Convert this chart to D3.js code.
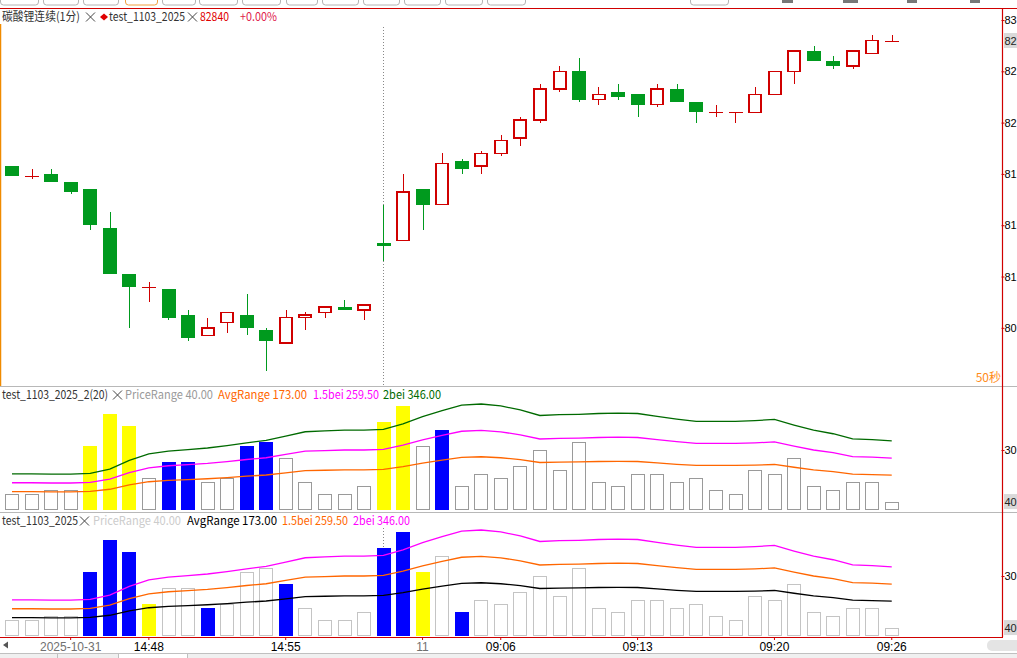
<!DOCTYPE html>
<html><head><meta charset="utf-8">
<script src="https://cdn.jsdelivr.net/npm/d3@7"></script>
<style>
body{margin:0;background:#fff;overflow:hidden}
text{font-family:"Noto Sans CJK SC","Liberation Sans",sans-serif}
</style>
</head><body><svg id="c" width="1017" height="658"></svg>
<script>
// ---------- data ----------
const opens  = [81860,81780,81800,81740,81680,81380,81020,80920,80900,80700,80540,80640,80700,80580,80480,80680,80720,80760,80740,81260,81280,81680,81560,81900,81860,81960,82080,82220,82460,82600,82380,82440,82420,82340,82460,82360,82280,82280,82280,82420,82600,82760,82680,82640,82740,82840];
const highs  = [81860,81840,81840,81740,81680,81500,81020,80960,80900,80740,80680,80720,80860,80600,80740,80720,80760,80820,80780,81560,81800,81680,81960,81920,81980,82100,82240,82500,82640,82700,82480,82500,82420,82500,82500,82360,82340,82280,82480,82600,82760,82800,82720,82760,82880,82880];
const lows   = [81780,81760,81740,81640,81360,81020,80600,80800,80660,80500,80540,80560,80540,80260,80480,80580,80680,80740,80660,81120,81280,81360,81560,81800,81800,81940,82020,82200,82440,82360,82340,82380,82240,82320,82360,82200,82240,82200,82280,82420,82500,82680,82620,82620,82740,82840];
const closes = [81780,81780,81740,81660,81400,81020,80920,80920,80680,80520,80600,80720,80600,80500,80680,80700,80760,80740,80780,81240,81660,81560,81880,81840,81960,82060,82220,82460,82600,82380,82420,82400,82340,82460,82360,82280,82280,82280,82420,82600,82760,82680,82640,82760,82840,82840];
const priceRange = [80,80,100,100,320,480,420,160,240,240,140,160,320,340,260,140,80,80,120,440,520,320,400,120,180,160,220,300,200,340,140,120,180,180,140,160,100,80,200,180,260,120,100,140,140,40];
const avgRange = [90,90,89,89,91,102,124,140,147,151,155,161,168,174,185,196,198,200,200,202,216,234,249,263,266,261,251,237,239,240,242,243,242,235,228,222,222,222,224,227,213,200,191,178,176,173];
const bei15 = [135,135,133.5,133.5,136.5,153,186,210,220.5,226.5,232.5,241.5,252,261,277.5,294,297,300,300,303,324,351,373.5,394.5,399,391.5,376.5,355.5,358.5,360,363,364.5,363,352.5,342,333,333,333,336,340.5,319.5,300,286.5,267,264,259.5];
const bei2 = [180,180,178,178,182,204,248,280,294,302,310,322,336,348,370,392,396,400,400,404,432,468,498,526,532,522,502,474,478,480,484,486,484,470,456,444,444,444,448,454,426,400,382,356,352,346];
// bar category: n = normal, y = yellow signal, b = blue signal
const panel2Cat = ["n","n","n","n","y","y","y","n","b","b","n","n","b","b","n","n","n","n","n","y","y","n","b","n","n","n","n","n","n","n","n","n","n","n","n","n","n","n","n","n","n","n","n","n","n","n"];
const panel3Cat = ["n","n","n","n","b","b","b","y","n","n","b","n","n","n","b","n","n","n","n","b","b","y","n","b","n","n","n","n","n","n","n","n","n","n","n","n","n","n","n","n","n","n","n","n","n","n"];
const timeTickIdx = [3,7,14,21,25,32,39,45];
const timeLabels = ["2025-10-31","14:48","14:55","11","09:06","09:13","09:20","09:26"];
const priceTicks = [83000,82600,82200,81800,81400,81000,80600];
const rangeTicks = [300];
const lastPrice = 82840;
const lastRange = 40;
const crossIdx = 19;

// ---------- chart ----------
const svg = d3.select('#c');
const RED = '#d00000', GREEN = '#009a1e';
const AXX = 1002;
// the narrow right scale only has room for the leading two characters (as in the source UI)
const shortFmt = d => String(d).slice(0, 2);
svg.append('rect').attr('width',1017).attr('height',658).attr('fill','#fff');

const idx = d3.range(opens.length);
const x = d3.scaleBand().domain(idx).range([2.22, 2.22 + 19.55*opens.length]).paddingInner(0.3).paddingOuter(0.15);
const bw = x.bandwidth();
const cx = i => x(i) + bw/2;
const px = i => Math.round(cx(i)) + 0.5;

const yP = d3.scaleLinear().domain([80600, 83000]).range([327.8, 20]);
const y2 = d3.scaleLinear().domain([0, 300]).range([509.5, 450]);
const y3 = d3.scaleLinear().domain([0, 300]).range([635.5, 576]);

// top toolbar remnants
const ui = svg.append('g');
[[0,38],[43,78],[83,118],[125,157],[162,195],[199,237],[242,280],[286,317],[322,358],[363,399],[404,440],[445,482],[487,525],[690,728]].forEach((b,k)=>{
  ui.append('rect').attr('x',b[0]+0.5).attr('y',-12).attr('width',b[1]-b[0]).attr('height',17)
    .attr('rx',3).attr('fill','#fff').attr('stroke', k===3 ? '#f0a040' : '#b4b4b4');
});
[[782,793],[843,858],[907,917],[970,980]].forEach(b=>{
  ui.append('rect').attr('x',b[0]).attr('y',0).attr('width',b[1]-b[0]).attr('height',3).attr('fill','#777');
});
svg.append('line').attr('x1',0).attr('x2',1017).attr('y1',8.5).attr('y2',8.5).attr('stroke',RED).attr('stroke-width',1.2);

// left orange border of main panel
svg.append('line').attr('x1',0.5).attr('x2',0.5).attr('y1',24).attr('y2',386).attr('stroke','#f08a00').attr('stroke-width',1.5);

// panel separators
[386.5, 512.5].forEach(yy=>svg.append('line').attr('x1',0).attr('x2',1017).attr('y1',yy).attr('y2',yy).attr('stroke','#b8b8b8'));

// dotted crosshair
svg.append('line').attr('x1',px(crossIdx)).attr('x2',px(crossIdx)).attr('y1',27).attr('y2',385)
  .attr('stroke','#888').attr('stroke-dasharray','1,2');
svg.append('line').attr('x1',px(crossIdx)).attr('x2',px(crossIdx)).attr('y1',528).attr('y2',635)
  .attr('stroke','#888').attr('stroke-dasharray','1,2');

// candles
const cg = svg.append('g').attr('shape-rendering','crispEdges');
idx.forEach(i=>{
  const up = closes[i] >= opens[i];
  const col = up ? RED : GREEN;
  const xc = px(i);
  cg.append('line').attr('x1',xc).attr('x2',xc).attr('y1',yP(highs[i])).attr('y2',yP(lows[i]))
    .attr('stroke',col).attr('stroke-width',1.5);
  const yTop = yP(Math.max(opens[i],closes[i])), yBot = yP(Math.min(opens[i],closes[i]));
  const xl = Math.round(cx(i) - bw/2);
  const w = Math.round(bw);
  if (opens[i] === closes[i]) {
    cg.append('line').attr('x1',xl).attr('x2',xl+w).attr('y1',Math.round(yTop)+0.5).attr('y2',Math.round(yTop)+0.5)
      .attr('stroke',col).attr('stroke-width',1.8);
  } else if (up) {
    cg.append('rect').attr('x',xl+0.75).attr('y',yTop).attr('width',w-1.5).attr('height',Math.max(1,yBot-yTop))
      .attr('fill','#fff').attr('stroke',col).attr('stroke-width',1.6);
  } else {
    cg.append('rect').attr('x',xl).attr('y',yTop).attr('width',w).attr('height',Math.max(2.5,yBot-yTop))
      .attr('fill',col);
  }
});

// price-range bars
function drawBars(ys, cats, outline){
  const g = svg.append('g').attr('shape-rendering','crispEdges');
  idx.forEach(i=>{
    const c = cats[i];
    const xl = Math.round(cx(i) - bw/2), w = Math.round(bw);
    const top = Math.round(ys(priceRange[i])), bot = Math.round(ys(0));
    if (c === 'n') {
      g.append('rect').attr('x',xl+0.5).attr('y',top+0.5).attr('width',w-1).attr('height',bot-top-1)
        .attr('fill','#fff').attr('stroke',outline).attr('stroke-width',1);
    } else {
      g.append('rect').attr('x',xl).attr('y',top).attr('width',w).attr('height',bot-top)
        .attr('fill', c === 'y' ? '#ffff00' : '#0000ff');
    }
  });
}
drawBars(y2, panel2Cat, '#9a9a9a');
drawBars(y3, panel3Cat, '#c4c4c4');

function drawLine(ys, vals, col){
  svg.append('path').datum(vals)
    .attr('d', d3.line().x((d,i)=>cx(i)).y(d=>ys(d)))
    .attr('fill','none').attr('stroke',col).attr('stroke-width',1.3);
}
drawLine(y2, avgRange, '#ff6600');
drawLine(y2, bei15, '#ff00ff');
drawLine(y2, bei2, '#006a00');
drawLine(y3, avgRange, '#000000');
drawLine(y3, bei15, '#ff6600');
drawLine(y3, bei2, '#ff00ff');

// headers
function closeIcon(x0, yc){
  svg.append('path').attr('d',`M${x0},${yc-4.5}L${x0+9},${yc+4.5}M${x0+9},${yc-4.5}L${x0},${yc+4.5}`)
    .attr('stroke','#444').attr('stroke-width',1).attr('fill','none');
}
function label(t, x0, x1, yc, col){
  svg.append('text').attr('x',x0).attr('y',yc+4.3).attr('font-size',12).attr('fill',col)
    .attr('textLength',x1-x0).attr('lengthAdjust','spacingAndGlyphs').text(t);
}
label('碳酸锂连续(1分)', 2, 80, 17, '#333');
closeIcon(86, 17);
svg.append('path').attr('d','M104,13.5L108,17L104,20.5L100,17Z').attr('fill','#e00000');
label('test_1103_2025', 109, 185, 17, '#333');
closeIcon(188, 17);
label(String(lastPrice), 200, 229, 17, '#e00000');
label('+0.00%', 240, 277, 17, '#e0204a');

label('test_1103_2025_2(20)', 2, 108, 395, '#333');
closeIcon(113, 395);
label('PriceRange 40.00', 125, 213, 395, '#9a9a9a');
label('AvgRange 173.00', 218, 307, 395, '#ff6600');
label('1.5bei 259.50', 313, 379, 395, '#ff00ff');
label('2bei 346.00', 383, 441, 395, '#006a00');

label('test_1103_2025', 2, 78, 521, '#333');
closeIcon(80, 521);
label('PriceRange 40.00', 93, 181, 521, '#cccccc');
label('AvgRange 173.00', 187, 277, 521, '#000');
label('1.5bei 259.50', 282, 348, 521, '#ff6600');
label('2bei 346.00', 353, 410, 521, '#ff00ff');

svg.append('text').attr('x',1001).attr('y',382).attr('text-anchor','end').attr('font-size',12)
  .attr('fill','#ff8c1a').text('50秒');

// right axes
function rightAxis(scale, ticks){
  const g = svg.append('g').attr('transform',`translate(${AXX - 0.5},0)`)
    .call(d3.axisRight(scale).tickValues(ticks).tickSize(3).tickPadding(0).tickFormat(shortFmt));
  g.select('.domain').remove();
  g.selectAll('.tick line').attr('stroke',RED);
  g.selectAll('.tick text').attr('fill','#000').attr('font-size',11)
    .style('font-family','"Liberation Sans",Arial,sans-serif');
  return g;
}
rightAxis(yP, priceTicks);
rightAxis(y2, rangeTicks);
rightAxis(y3, rangeTicks);
function hiLabel(yy, v){
  svg.append('rect').attr('x',1004).attr('y',yy-7.5).attr('width',13).attr('height',15).attr('fill','#d9d9d9');
  svg.append('text').attr('x',1004.5).attr('y',yy+4).attr('font-size',11).attr('fill','#222')
    .style('font-family','"Liberation Sans",Arial,sans-serif').text(shortFmt(v));
}
hiLabel(yP(lastPrice), lastPrice);
hiLabel(y2(lastRange), lastRange);
hiLabel(y3(lastRange), lastRange);

svg.append('line').attr('x1',AXX+0.5).attr('x2',AXX+0.5).attr('y1',8).attr('y2',637).attr('stroke',RED).attr('stroke-width',1.2);

// bottom time axis
const bx = svg.append('g').attr('transform','translate(0,637)')
  .call(d3.axisBottom(x).tickValues(timeTickIdx).tickSize(3).tickPadding(2).tickFormat((d,k)=>timeLabels[k]));
bx.select('.domain').remove();
bx.selectAll('.tick line').attr('stroke',RED);
bx.selectAll('.tick text').attr('font-size',12)
  .style('font-family','"Liberation Sans",Arial,sans-serif')
  .attr('fill',(d,k)=> timeLabels[k].includes(':') ? '#000' : '#707070');
svg.append('line').attr('x1',0).attr('x2',AXX+1).attr('y1',637.5).attr('y2',637.5).attr('stroke',RED).attr('stroke-width',1.2);

// bottom chrome
svg.append('path').attr('d','M3,645L8,641.5L8,648.5Z').attr('fill','#555');
svg.append('rect').attr('x',987).attr('y',640).attr('width',40).attr('height',11).attr('rx',5).attr('fill','#e4e4e4');
svg.append('rect').attr('x',0).attr('y',653).attr('width',1017).attr('height',5).attr('fill','#f0f0f0');
svg.append('rect').attr('x',118).attr('y',653).attr('width',69).attr('height',5).attr('fill','#fff');
svg.append('line').attr('x1',0).attr('x2',1017).attr('y1',653.5).attr('y2',653.5).attr('stroke','#c0c0c0');
[57,118,187].forEach(xx=>svg.append('line').attr('x1',xx+0.5).attr('x2',xx+0.5).attr('y1',653).attr('y2',658).attr('stroke','#c0c0c0'));
</script></body></html>
